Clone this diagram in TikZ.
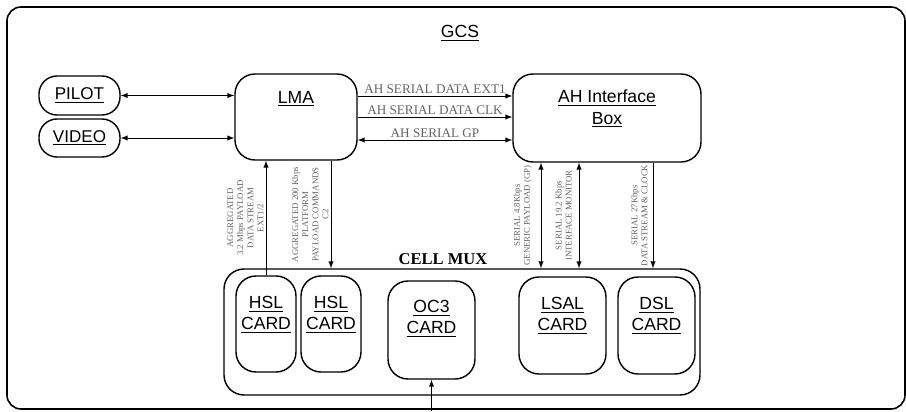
\documentclass[tikz,border=0pt]{standalone}
\usepackage{fontspec}
\setmainfont{Liberation Serif}
\setsansfont{Liberation Sans}
\usetikzlibrary{arrows,calc}

\definecolor{labelgray}{RGB}{100,100,100}

\begin{document}
\begin{tikzpicture}[>=latex,
    box/.style={draw,line width=0.8pt,rounded corners=0.4cm},
    title/.style={font=\sffamily\fontsize{10}{12}\selectfont,align=center},
    sig/.style={font=\fontsize{7.5}{8}\selectfont,text=labelgray,inner sep=1pt},
    vsig/.style={font=\fontsize{5}{5.7}\selectfont,text=labelgray,align=center,
      rotate=90,anchor=south,inner sep=1.3pt}]
    \useasboundingbox (0,0) rectangle (18.12,8.22);
    % outer frame
    \draw[line width=0.9pt,rounded corners=0.28cm] (0.14,0.04) rectangle (18.10,8.08);
    \node[title] (gcs) at (9.2,7.56) {\underline{GCS}};
    % pilot and video
    \node[box,rounded corners=0.36cm,minimum width=1.62cm,minimum height=0.78cm,title,font=\sffamily\fontsize{9.7}{12}\selectfont] (pilot) at (1.59,6.31) {\underline{PILOT}};
    \node[box,rounded corners=0.36cm,minimum width=1.62cm,minimum height=0.76cm,title,font=\sffamily\fontsize{9.7}{12}\selectfont] (video) at (1.59,5.46) {\underline{VIDEO}};
    % LMA and AH box
    \node[box,minimum width=2.44cm,minimum height=1.72cm] (lma) at (5.92,5.88) {};
    \node[title] (lmatxt) at ([yshift=0.36cm]lma.center) {\underline{LMA}};
    \node[box,minimum width=3.76cm,minimum height=1.76cm] (ah) at (12.14,5.86) {};
    \node[title] (ahtxt) at ([yshift=0.18cm]ah.center) {\underline{AH Interface}\\\underline{Box}};
    \draw[<->] (pilot.east) -- (pilot.east -| lma.west);
    \draw[<->] (video.east) -- (video.east -| lma.west);
    % serial links
    \coordinate (ext) at ([yshift=0.42cm]lma.east);
    \coordinate (clk) at (lma.east);
    \coordinate (gp) at ([yshift=-0.46cm]lma.east);
    \draw[->] (ext) -- (ext -| ah.west) node[sig,midway,above] {AH SERIAL DATA EXT1};
    \draw[->] (clk) -- (clk -| ah.west) node[sig,midway,above] {AH SERIAL DATA CLK};
    \draw[<->] (gp) -- (gp -| ah.west) node[sig,midway,above] {AH SERIAL GP};
    % cell mux
    \node[box,minimum width=9.52cm,minimum height=2.52cm] (mux) at (9.24,1.58) {};
    \node[font=\bfseries\fontsize{9.4}{11}\selectfont] (muxlbl) at (8.86,3.04) {CELL MUX};
    \node[box,minimum width=1.2cm,minimum height=1.92cm] (hsla) at (5.32,1.74) {};
    \node[title] (hslatxt) at ([yshift=0.18cm]hsla.center) {\underline{HSL}\\\underline{CARD}};
    \node[box,minimum width=1.2cm,minimum height=1.92cm] (hslb) at (6.62,1.74) {};
    \node[title] (hslbtxt) at ([yshift=0.18cm]hslb.center) {\underline{HSL}\\\underline{CARD}};
    \node[box,minimum width=1.74cm,minimum height=1.96cm] (oc3) at (8.63,1.62) {};
    \node[title] (oc3txt) at ([yshift=0.22cm]oc3.center) {\underline{OC3}\\\underline{CARD}};
    \node[box,minimum width=1.74cm,minimum height=1.94cm] (lsal) at (11.25,1.71) {};
    \node[title] (lsaltxt) at ([yshift=0.19cm]lsal.center) {\underline{LSAL}\\\underline{CARD}};
    \node[box,minimum width=1.54cm,minimum height=1.94cm] (dsl) at (13.13,1.71) {};
    \node[title] (dsltxt) at ([yshift=0.19cm]dsl.center) {\underline{DSL}\\\underline{CARD}};
    % links to the mux
    \draw[->] (hsla.north) -- (hsla.north |- lma.south)
      node[vsig,midway] {AGGREGATED\\3.2 Mbps PAYLOAD\\DATA STREAM\\EXT1/2};
    \draw[->] (hslb |- lma.south) -- (hslb |- mux.north)
      node[vsig,midway] {AGGREGATED 200 Kbps\\PLATFORM\\PAYLOAD COMMANDS\\C2};
    \coordinate (gplink) at ([xshift=-0.43cm]lsal.north);
    \coordinate (monlink) at ([xshift=0.33cm]lsal.north);
    \coordinate (clklink) at ([xshift=-0.07cm]dsl.north);
    \draw[<->] (gplink |- mux.north) -- (gplink |- ah.south)
      node[vsig,midway,inner sep=5pt] {SERIAL 4.8Kbps\\GENERIC PAYLOAD (GP)};
    \draw[<->] (monlink |- mux.north) -- (monlink |- ah.south)
      node[vsig,midway,inner sep=4pt] {SERIAL 19.2 Kbps\\INTERFACE MONITOR};
    \draw[->] (clklink |- ah.south) -- (clklink |- mux.north)
      node[vsig,midway,inner sep=3pt] {SERIAL 27Kbps\\DATA STREAM \& CLOCK};
    % feed into OC3
    \coordinate (feed) at (oc3.south |- 0,0);
    \draw[->] (feed) -- (oc3.south);
\end{tikzpicture}
\end{document}
